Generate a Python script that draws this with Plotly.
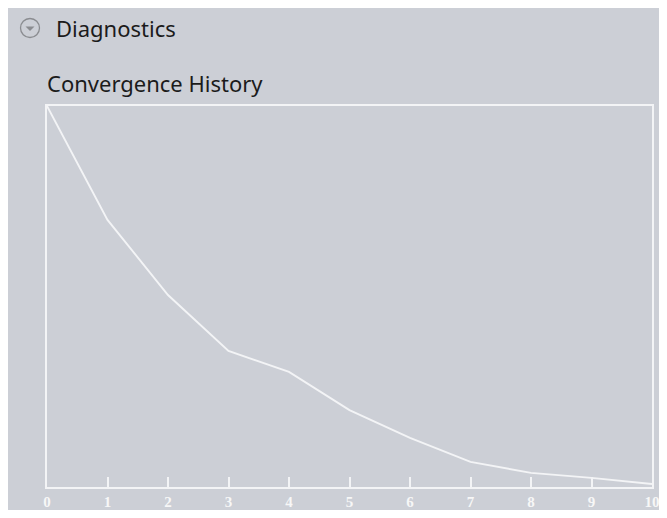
import plotly.graph_objects as go

# data
iterations = [0, 1, 2, 3, 4, 5, 6, 7, 8, 9, 10]
residual = [100, 70.1, 50.4, 35.7, 30.2, 20.2, 12.9, 6.6, 3.7, 2.4, 0.8]
tick_vals = [0, 1, 2, 3, 4, 5, 6, 7, 8, 9, 10]

# the page body adds an 8px margin, which gives the white strip on the left/top
W, H = 659, 502
_PANEL = "#cccfd6"
_LINE = "#f3f4f6"
_TEXT = "#1b1b1b"
_FONT = "Noto Sans, Open Sans, sans-serif"

# plot area in figure pixels (right edge pulled in so the "10" label stays visible)
L, R, T, B = 39, 644, 98, 479


def px(x):
    return (x - L) / (R - L)


def py(y):
    return (B - y) / (B - T)


fig = go.Figure()
fig.add_trace(go.Scatter(
    x=iterations, y=residual, mode="lines",
    line=dict(color=_LINE, width=1.9),
    hoverinfo="skip", showlegend=False,
))

# collapse icon
cx, cy, r = 22, 20, 9.5
fig.add_shape(type="circle", xref="paper", yref="paper",
              x0=px(cx - r), x1=px(cx + r), y0=py(cy + r), y1=py(cy - r),
              line=dict(color="#8a8c90", width=1.3), fillcolor="rgba(0,0,0,0)")
fig.add_shape(type="path", xref="paper", yref="paper",
              path=(f"M {px(cx-4.5)} {py(cy-1.5)} L {px(cx+4.5)} {py(cy-1.5)} "
                    f"L {px(cx)} {py(cy+3)} Z"),
              fillcolor="#8a8c90", line=dict(width=0))

fig.add_annotation(x=px(46), y=py(20), xref="paper", yref="paper",
                   text="Diagnostics", showarrow=False,
                   xanchor="left", yanchor="middle",
                   font=dict(family=_FONT, size=22, color=_TEXT))
fig.add_annotation(x=px(37), y=py(75), xref="paper", yref="paper",
                   text="Convergence History", showarrow=False,
                   xanchor="left", yanchor="middle",
                   font=dict(family=_FONT, size=22, color=_TEXT))

fig.update_layout(
    width=W, height=H,
    paper_bgcolor=_PANEL, plot_bgcolor=_PANEL,
    margin=dict(l=L, r=W - R, t=T, b=H - B, pad=0, autoexpand=False),
    showlegend=False,
    xaxis=dict(range=[0, 10], tickvals=tick_vals, automargin=False,
               showgrid=False, zeroline=False,
               showline=True, linecolor=_LINE, linewidth=2.4, mirror=True,
               ticks="inside", ticklen=10, tickwidth=1.6, tickcolor=_LINE,
               tickfont=dict(family="Liberation Serif", size=15,
                             color="#f7f7f7", weight="bold")),
    yaxis=dict(range=[0, 100], showgrid=False, zeroline=False, automargin=False,
               showticklabels=False, ticks="",
               showline=True, linecolor=_LINE, linewidth=2.4, mirror=True),
)

fig.write_html("out.html")
